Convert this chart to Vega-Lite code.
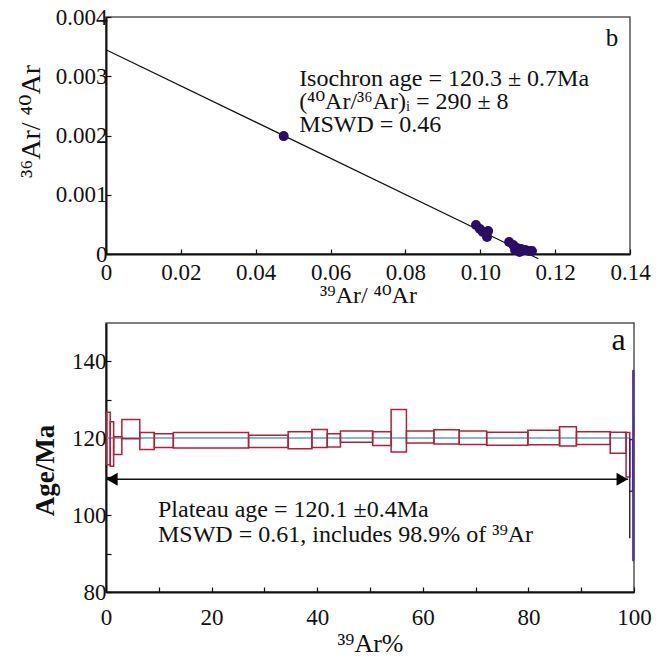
{
  "$schema": "https://vega.github.io/schema/vega-lite/v6.json",
  "background": "white",
  "padding": {"left": 16, "top": 5, "right": 5, "bottom": 5},
  "spacing": 14,
  "config": {
    "font": "Liberation Serif, DejaVu Serif",
    "view": {"stroke": "#555", "strokeWidth": 1.5},
    "style": {
      "guide-label": {"font": "Liberation Serif, DejaVu Serif", "fill": "#111"},
      "guide-title": {"font": "Liberation Serif, DejaVu Serif", "fill": "#111"}
    },
    "axis": {
      "domainColor": "#111", "domainWidth": 2,
      "tickColor": "#111", "tickWidth": 1.2, "tickSize": -5,
      "labelFont": "Liberation Serif, DejaVu Serif", "labelFontSize": 23, "labelColor": "#111",
      "titleFont": "Liberation Serif, DejaVu Serif", "titleFontWeight": "normal", "titleColor": "#111",
      "grid": false, "labelFlush": false, "labelOverlap": false
    }
  },
  "vconcat": [
    {
      "width": 524,
      "height": 237,
      "layer": [
        {
          "data": {"values": [{"r39": 0, "r36": 0.003448}, {"r39": 0.1155, "r36": -0.00008}]},
          "mark": {"type": "line", "color": "#111", "strokeWidth": 1.2},
          "encoding": {
            "x": {
              "field": "r39", "type": "quantitative", "title": "³⁹Ar/ ⁴⁰Ar",
              "scale": {"domain": [0, 0.14], "nice": false, "zero": false},
              "axis": {
                "values": [0, 0.02, 0.04, 0.06, 0.08, 0.1, 0.12, 0.14],
                "labelExpr": "datum.value == 0 ? '0' : format(datum.value, '.2f')",
                "labelFont": "Liberation Serif",
                "labelPadding": 12, "titleFontSize": 24, "titlePadding": -1
              }
            },
            "y": {
              "field": "r36", "type": "quantitative", "title": "³⁶Ar/ ⁴⁰Ar",
              "scale": {"domain": [0, 0.004], "nice": false, "zero": false},
              "axis": {
                "values": [0, 0.0005, 0.001, 0.0015, 0.002, 0.0025, 0.003, 0.0035, 0.004],
                "labelExpr": "abs(datum.value*1000 - round(datum.value*1000)) < 0.000001 ? (datum.value == 0 ? '0' : format(datum.value, '.3f')) : ''",
                "labelFont": "Liberation Serif",
                "labelPadding": 4, "titleFontSize": 28, "titlePadding": 10, "titleY": 104
              }
            }
          }
        },
        {
          "data": {"values": [
            {"r39": 0.04748, "r36": 0.00199},
            {"r39": 0.09885, "r36": 0.000489},
            {"r39": 0.0999, "r36": 0.000422},
            {"r39": 0.1007, "r36": 0.000371},
            {"r39": 0.1018, "r36": 0.000287},
            {"r39": 0.1021, "r36": 0.000388},
            {"r39": 0.1077, "r36": 0.000203},
            {"r39": 0.1088, "r36": 0.000152},
            {"r39": 0.1098, "r36": 0.000101},
            {"r39": 0.1109, "r36": 0.000084},
            {"r39": 0.112, "r36": 0.000068},
            {"r39": 0.113, "r36": 0.000051},
            {"r39": 0.1138, "r36": 0.000051},
            {"r39": 0.1093, "r36": 0.000068},
            {"r39": 0.1105, "r36": 0.000034}
          ]},
          "mark": {"type": "circle", "size": 100, "color": "#2b0c66", "opacity": 1},
          "encoding": {
            "x": {"field": "r39", "type": "quantitative", "title": "³⁹Ar/ ⁴⁰Ar"},
            "y": {"field": "r36", "type": "quantitative", "title": "³⁶Ar/ ⁴⁰Ar"}
          }
        },
        {
          "data": {"values": [{"label": "isochron"}]},
          "mark": {"type": "text", "align": "left", "baseline": "alphabetic", "fontSize": 24, "lineHeight": 23, "color": "#111"},
          "encoding": {
            "x": {"datum": 0.0516, "type": "quantitative", "title": "³⁹Ar/ ⁴⁰Ar"},
            "y": {"datum": 0.002835, "type": "quantitative", "title": "³⁶Ar/ ⁴⁰Ar"},
            "text": {"value": ["Isochron age = 120.3 ± 0.7Ma", "(⁴⁰Ar/³⁶Ar)ᵢ = 290 ± 8", "MSWD = 0.46"]}
          }
        },
        {
          "data": {"values": [{"label": "b"}]},
          "mark": {"type": "text", "align": "center", "baseline": "alphabetic", "fontSize": 25, "color": "#111"},
          "encoding": {
            "x": {"datum": 0.1352, "type": "quantitative", "title": "³⁹Ar/ ⁴⁰Ar"},
            "y": {"datum": 0.00351, "type": "quantitative", "title": "³⁶Ar/ ⁴⁰Ar"},
            "text": {"field": "label"}
          }
        }
      ]
    },
    {
      "width": 528,
      "height": 269,
      "layer": [
        {
          "data": {"values": [{"age": 120.1, "from": 0, "to": 99.2}]},
          "mark": {"type": "rule", "color": "#7fbcbc", "strokeWidth": 2},
          "encoding": {
            "x": {
              "field": "from", "type": "quantitative", "title": "³⁹Ar%",
              "scale": {"domain": [0, 100], "nice": false, "zero": false},
              "axis": {
                "values": [0, 10, 20, 30, 40, 50, 60, 70, 80, 90, 100],
                "labelExpr": "datum.value % 20 == 0 ? datum.label : ''",
                "labelFont": "Liberation Serif",
                "labelPadding": 19, "titleFontSize": 26, "titlePadding": 1
              }
            },
            "x2": {"field": "to"},
            "y": {
              "field": "age", "type": "quantitative", "title": "Age/Ma",
              "scale": {"domain": [80, 150], "nice": false, "zero": false},
              "axis": {
                "values": [80, 90, 100, 110, 120, 130, 140],
                "labelExpr": "datum.value % 20 == 0 ? datum.label : ''",
                "labelFont": "Liberation Serif",
                "labelPadding": 5, "titleFontSize": 27, "titleFontWeight": "bold", "titlePadding": 12, "titleY": 147
              }
            }
          }
        },
        {
          "data": {"values": [
            {"start": 0.1, "end": 0.8, "lo": 113.1, "hi": 126.8},
            {"start": 0.8, "end": 1.45, "lo": 112.7, "hi": 124.3},
            {"start": 1.45, "end": 3.0, "lo": 115.8, "hi": 120.4},
            {"start": 3.0, "end": 6.4, "lo": 119.9, "hi": 124.9},
            {"start": 6.4, "end": 9.15, "lo": 117.1, "hi": 121.5},
            {"start": 9.15, "end": 12.75, "lo": 117.6, "hi": 121.2},
            {"start": 12.75, "end": 27.0, "lo": 117.5, "hi": 121.5},
            {"start": 27.0, "end": 34.5, "lo": 117.6, "hi": 120.8},
            {"start": 34.5, "end": 39.0, "lo": 117.3, "hi": 121.7},
            {"start": 39.0, "end": 41.9, "lo": 117.6, "hi": 122.3},
            {"start": 41.9, "end": 44.4, "lo": 117.7, "hi": 121.2},
            {"start": 44.4, "end": 50.5, "lo": 119.0, "hi": 121.9},
            {"start": 50.5, "end": 54.0, "lo": 118.1, "hi": 121.7},
            {"start": 54.0, "end": 56.9, "lo": 116.4, "hi": 127.5},
            {"start": 56.9, "end": 62.1, "lo": 118.8, "hi": 121.9},
            {"start": 62.1, "end": 66.9, "lo": 118.5, "hi": 122.2},
            {"start": 66.9, "end": 72.1, "lo": 118.4, "hi": 121.9},
            {"start": 72.1, "end": 79.9, "lo": 118.2, "hi": 121.6},
            {"start": 79.9, "end": 85.9, "lo": 118.3, "hi": 122.1},
            {"start": 85.9, "end": 89.1, "lo": 118.0, "hi": 123.0},
            {"start": 89.1, "end": 95.5, "lo": 118.4, "hi": 121.7},
            {"start": 95.5, "end": 98.5, "lo": 116.1, "hi": 121.6},
            {"start": 98.5, "end": 99.2, "lo": 109.9, "hi": 121.5}
          ]},
          "mark": {"type": "rect", "filled": false, "stroke": "#b3203c", "strokeWidth": 1.5},
          "encoding": {
            "x": {"field": "start", "type": "quantitative", "title": "³⁹Ar%"},
            "x2": {"field": "end"},
            "y": {"field": "lo", "type": "quantitative", "title": "Age/Ma"},
            "y2": {"field": "hi"}
          }
        },
        {
          "data": {"values": [{"start": 99.2, "end": 99.75, "lo": 106.2, "hi": 119.7}]},
          "mark": {"type": "rect", "filled": false, "stroke": "#3a1f80", "strokeWidth": 1.5},
          "encoding": {
            "x": {"field": "start", "type": "quantitative", "title": "³⁹Ar%"},
            "x2": {"field": "end"},
            "y": {"field": "lo", "type": "quantitative", "title": "Age/Ma"},
            "y2": {"field": "hi"}
          }
        },
        {
          "data": {"values": [{"start": 99.75, "end": 100, "lo": 88.1, "hi": 137.7}]},
          "mark": {"type": "rect", "color": "#5d40aa", "stroke": "#4a2f95", "strokeWidth": 1},
          "encoding": {
            "x": {"field": "start", "type": "quantitative", "title": "³⁹Ar%"},
            "x2": {"field": "end"},
            "y": {"field": "lo", "type": "quantitative", "title": "Age/Ma"},
            "y2": {"field": "hi"}
          }
        },
        {
          "data": {"values": [{"pct": 99.2, "lo": 94, "hi": 106.2}]},
          "mark": {"type": "rule", "color": "#111", "strokeWidth": 1.3},
          "encoding": {
            "x": {"field": "pct", "type": "quantitative", "title": "³⁹Ar%"},
            "y": {"field": "lo", "type": "quantitative", "title": "Age/Ma"},
            "y2": {"field": "hi"}
          }
        },
        {
          "data": {"values": [{"age": 109.35, "from": 0, "to": 98.9}]},
          "mark": {"type": "rule", "color": "#111", "strokeWidth": 1.5},
          "encoding": {
            "x": {"field": "from", "type": "quantitative", "title": "³⁹Ar%"},
            "x2": {"field": "to"},
            "y": {"field": "age", "type": "quantitative", "title": "Age/Ma"}
          }
        },
        {
          "data": {"values": [{"age": 109.35, "pct": 0}]},
          "mark": {"type": "point", "shape": "triangle-left", "size": 170, "filled": true, "color": "#000", "opacity": 1, "xOffset": 6},
          "encoding": {
            "x": {"field": "pct", "type": "quantitative", "title": "³⁹Ar%"},
            "y": {"field": "age", "type": "quantitative", "title": "Age/Ma"}
          }
        },
        {
          "data": {"values": [{"age": 109.35, "pct": 98.9}]},
          "mark": {"type": "point", "shape": "triangle-right", "size": 170, "filled": true, "color": "#000", "opacity": 1, "xOffset": -6},
          "encoding": {
            "x": {"field": "pct", "type": "quantitative", "title": "³⁹Ar%"},
            "y": {"field": "age", "type": "quantitative", "title": "Age/Ma"}
          }
        },
        {
          "data": {"values": [{"label": "plateau"}]},
          "mark": {"type": "text", "align": "left", "baseline": "alphabetic", "fontSize": 24, "lineHeight": 25, "color": "#111"},
          "encoding": {
            "x": {"datum": 9.85, "type": "quantitative", "title": "³⁹Ar%"},
            "y": {"datum": 99.5, "type": "quantitative", "title": "Age/Ma"},
            "text": {"value": ["Plateau age = 120.1 ±0.4Ma", "MSWD = 0.61, includes 98.9% of ³⁹Ar"]}
          }
        },
        {
          "data": {"values": [{"label": "a"}]},
          "mark": {"type": "text", "align": "center", "baseline": "alphabetic", "fontSize": 32, "color": "#111"},
          "encoding": {
            "x": {"datum": 97.1, "type": "quantitative", "title": "³⁹Ar%"},
            "y": {"datum": 143.1, "type": "quantitative", "title": "Age/Ma"},
            "text": {"field": "label"}
          }
        }
      ]
    }
  ]
}
